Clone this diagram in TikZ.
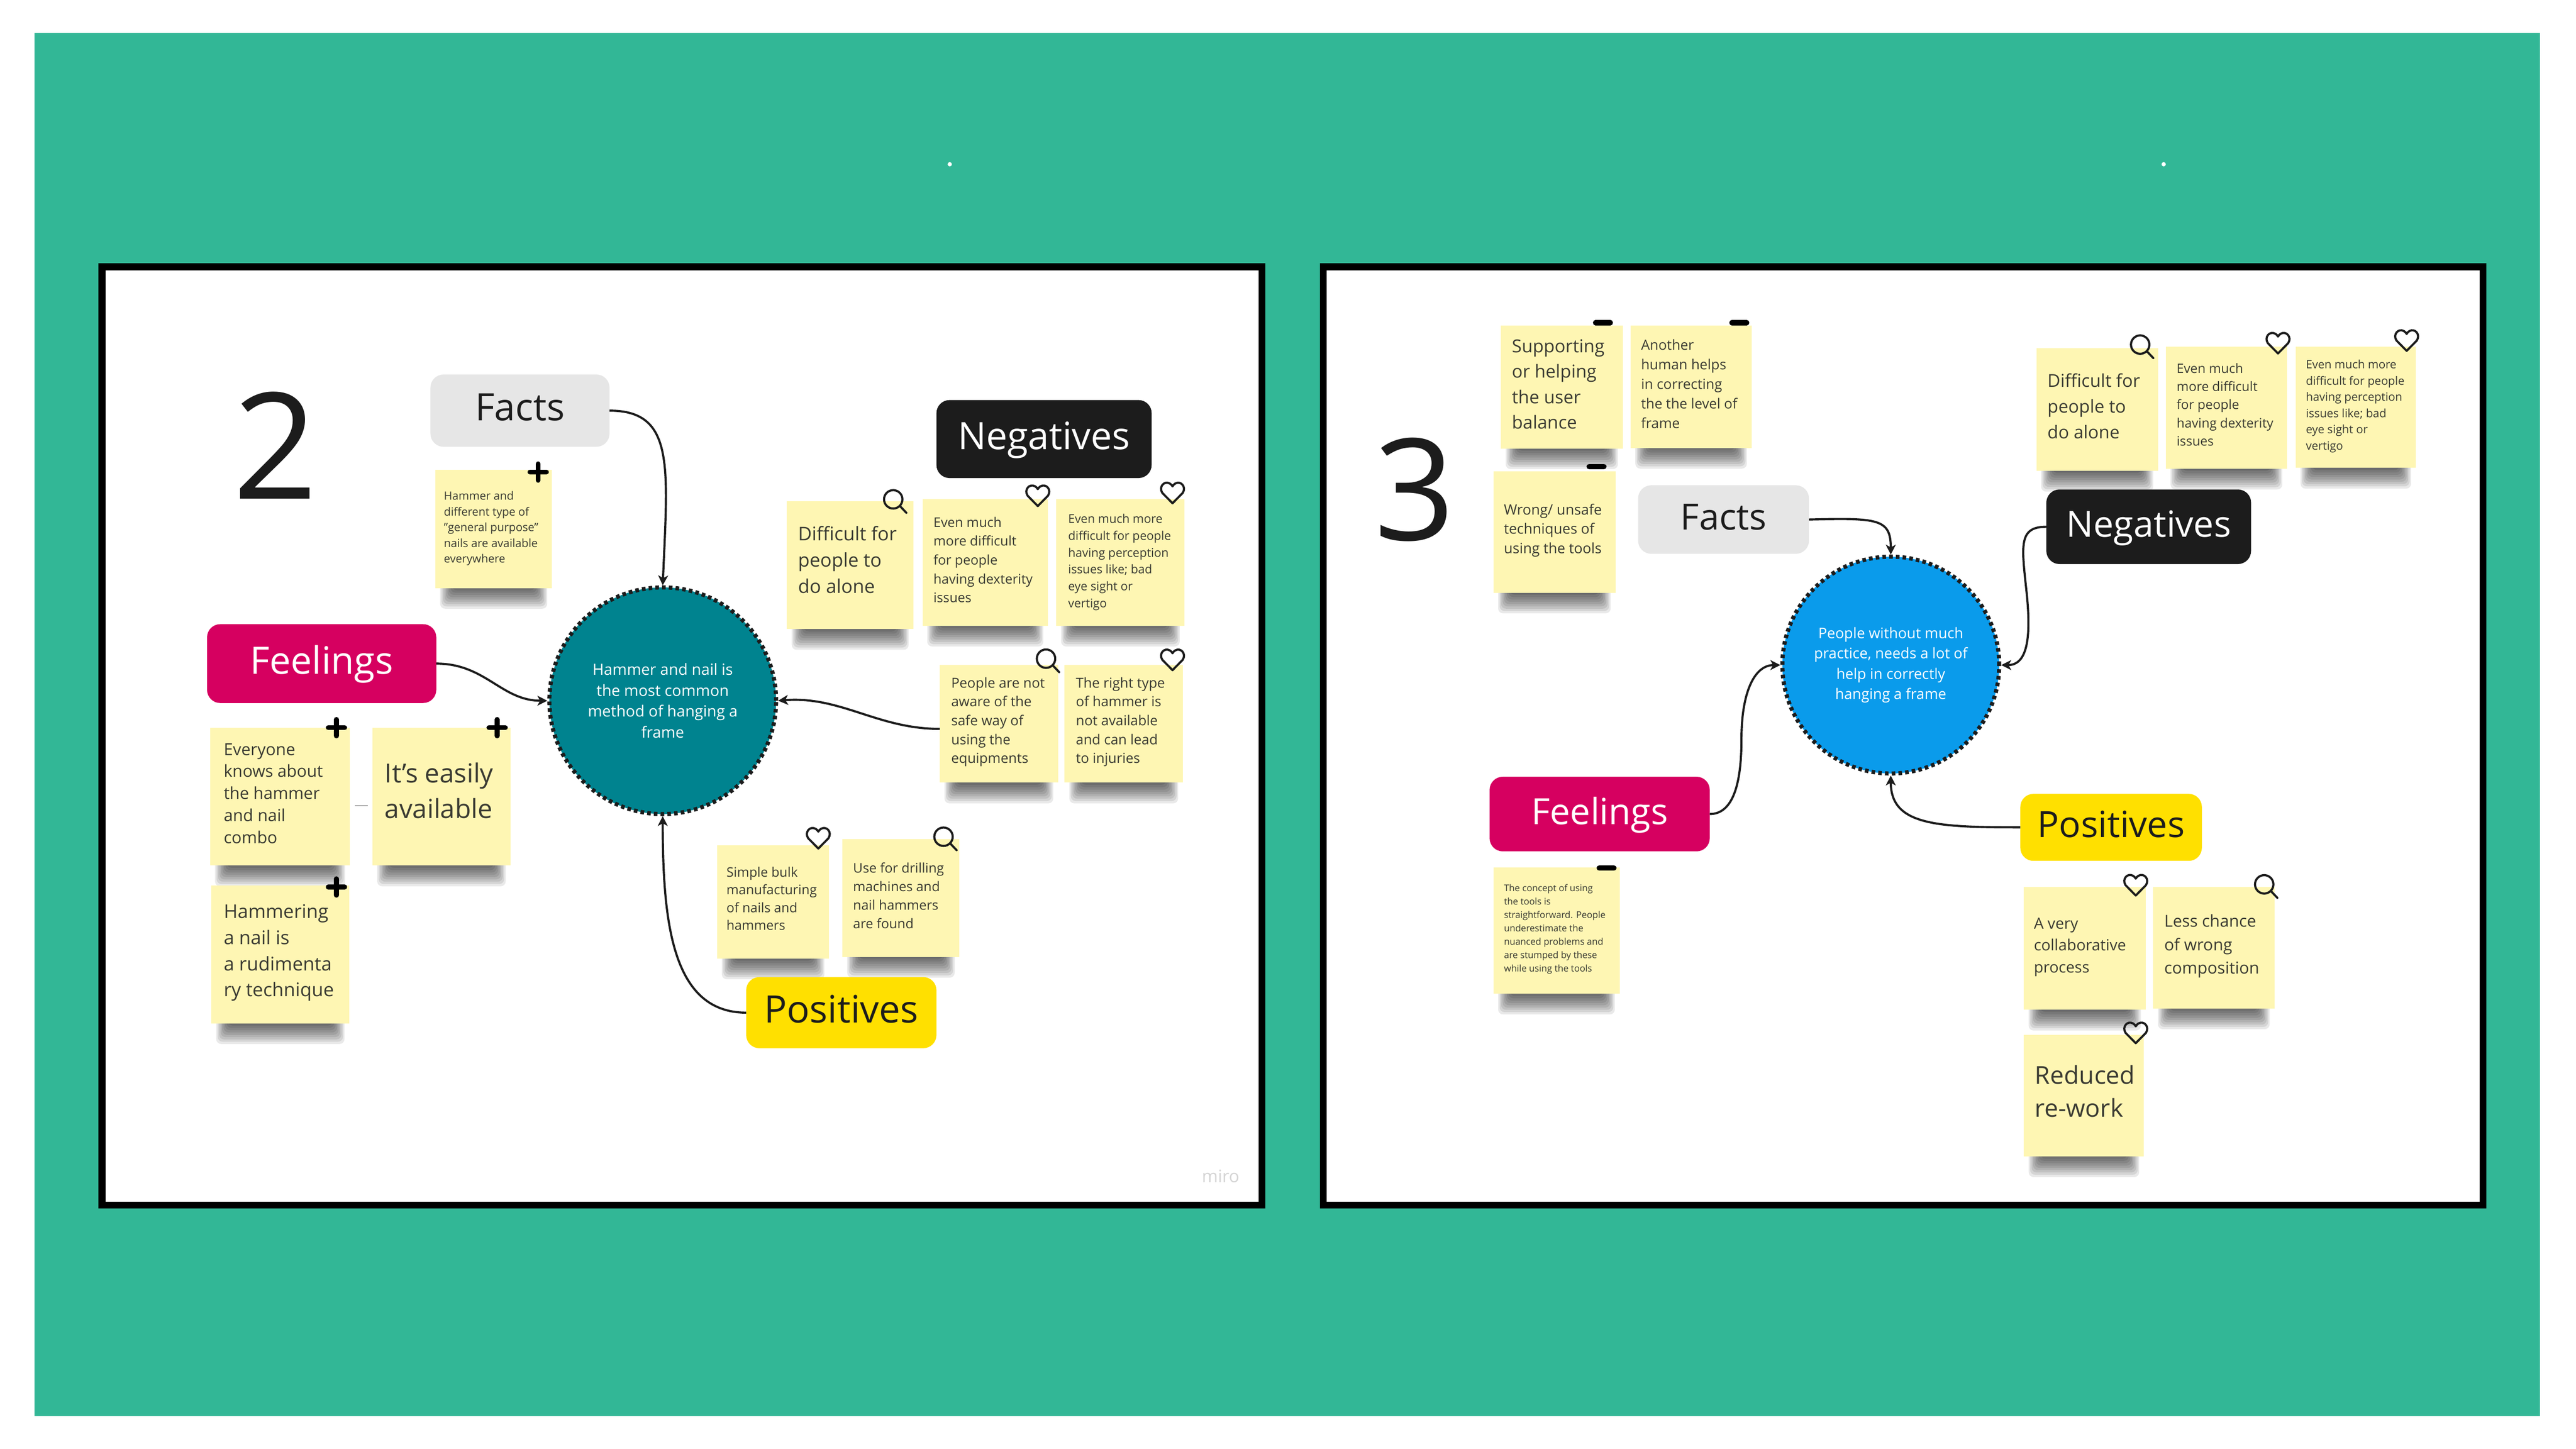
\documentclass[tikz,border=0pt]{standalone}
\usepackage{fontspec}
\setmainfont{Open Sans}
\usetikzlibrary{arrows.meta}
\definecolor{slidegreen}{HTML}{32B796}
\definecolor{noteyellow}{HTML}{FEF6B3}
\definecolor{inkdark}{HTML}{1C1C1C}
\definecolor{notetext}{HTML}{3A3A32}
\definecolor{factgray}{HTML}{E6E6E6}
\definecolor{feelpink}{HTML}{D60060}
\definecolor{posyellow}{HTML}{FFE000}
\definecolor{tealdisc}{HTML}{00838F}
\definecolor{bluedisc}{HTML}{0A9BEB}
\newcommand{\fs}[2]{\fontsize{#1}{#2}\selectfont}
\tikzset{
  boardframe/.style={fill=white,draw=black,line width=4.2pt},
  headbox/.style={rectangle,rounded corners=8pt,outer sep=0pt,text height=16.4pt,text depth=4pt},
  stickybox/.style={rectangle,fill=noteyellow,inner sep=0pt,outer sep=0pt,anchor=north west},
  stickytext/.style={inner sep=0pt,anchor=north west,align=left,text=notetext},
  bigdisc/.style={circle,draw=inkdark,line width=2.5pt,dash pattern=on 2.2pt off 1.9pt,align=center,text=white},
  linkline/.style={line width=1.3pt,draw=inkdark,-{Stealth[length=6pt,width=6pt,inset=1.6pt]}},
  iconline/.style={line width=1.3pt,draw=inkdark,line join=round,line cap=round},
}
% note: name, x0, y0, x1, y1, text x, text top, font, text
\newcommand{\sticky}[9]{
  \foreach \sh in {1,...,9}
    \fill[black,opacity=0.085,rounded corners=3pt] (#2+11-0.9*\sh,#5-4) rectangle (#4-11+0.9*\sh,#5+1.4*\sh);
  \node (#1) [stickybox,minimum width=(#4-#2)*1pt,minimum height=(#5-#3)*1pt] at (#2,#3) {};
  \node (#1t) [stickytext,font=#8] at (#6,#7+0.7) {\strut #9};
}
\newcommand{\iconplus}[2]{
  \draw[line width=3pt,draw=black,line cap=round] (#1-5,#2) -- (#1+5,#2) (#1,#2-5) -- (#1,#2+5);
}
\newcommand{\iconminus}[2]{
  \draw[line width=3.2pt,draw=black,line cap=round] (#1-4.5,#2) -- (#1+4.5,#2);
}
\newcommand{\iconheart}[2]{
  \draw[iconline] (#1,#2+6.5) -- (#1-6.2,#2+0.2) .. controls (#1-8.6,#2-3.5) and (#1-5,#2-7.5) .. (#1-1.6,#2-5.5)
    .. controls (#1-0.9,#2-5.1) and (#1-0.3,#2-4.4) .. (#1,#2-3.8) .. controls (#1+0.3,#2-4.4) and (#1+0.9,#2-5.1) .. (#1+1.6,#2-5.5)
    .. controls (#1+5,#2-7.5) and (#1+8.6,#2-3.5) .. (#1+6.2,#2+0.2) -- cycle;
}
\newcommand{\iconlens}[2]{
  \draw[iconline] (#1,#2) circle[radius=5.6];
  \draw[iconline] (#1+4,#2+4) -- (#1+8,#2+8.2);
}

\begin{document}
\begin{tikzpicture}[x=1pt,y=-1pt]
  \useasboundingbox (0,0) rectangle (1568,882);
  \fill[white] (0,0) rectangle (1568,882);
  \fill[slidegreen] (21,20) rectangle (1546,862);
  \fill[white] (578.1,100) circle[radius=1.3] (1317,100) circle[radius=1.3];
  \draw[boardframe] (62.1,162.4) rectangle (768.1,733.7);
  \draw[boardframe] (805.4,162.4) rectangle (1511.4,733.7);

  % left board
  \node (numtwo) [text=inkdark,font=\fs{90}{100}] at (167.5,271) {2};
  \node (mirotag) [text=black!17,font=\fs{10.5}{12}] at (743,716) {miro};

  \sticky{factnote}{265}{286}{336}{358}{270}{296.8}{\fs{6.9}{9.56}}{Hammer and\\different type of\\"general purpose"\\nails are available\\everywhere}
  \sticky{alonenote}{479}{305}{556}{383}{485.6}{317.1}{\fs{11.5}{16}}{Difficult for\\people to\\do alone}
  \sticky{dexnote}{561.5}{304}{638}{381}{568}{311.9}{\fs{8.1}{11.5}}{Even much\\more difficult\\for people\\having dexterity\\issues}
  \sticky{percnote}{643}{304}{721}{381}{650}{310.3}{\fs{7.3}{10.3}}{Even much more\\difficult for people\\having perception\\issues like; bad\\eye sight or\\vertigo}
  \sticky{awarenote}{572}{405}{644}{476.5}{578.8}{409.8}{\fs{8.4}{11.5}}{People are not\\aware of the\\safe way of\\using the\\equipments}
  \sticky{injurynote}{648}{405}{720}{476.5}{654.7}{409.8}{\fs{8.4}{11.5}}{The right type\\of hammer is\\not available\\and can lead\\to injuries}
  \sticky{knownote}{128}{443}{213}{527}{136}{449.5}{\fs{10.1}{13.4}}{Everyone\\knows about\\the hammer\\and nail\\combo}
  \sticky{easynote}{226.7}{443}{310.7}{527}{234}{460.3}{\fs{16}{21.8}}{It's easily\\available}
  \sticky{rudenote}{128.7}{539}{212.6}{623}{136}{547}{\fs{11.5}{15.9}}{Hammering\\a nail is\\a rudimenta\\ry technique}
  \sticky{bulknote}{436.5}{514.6}{504.7}{583.6}{442}{525.4}{\fs{8}{10.8}}{Simple bulk\\manufacturing\\of nails and\\hammers}
  \sticky{drillnote}{512.8}{511}{584}{582.6}{519.1}{522.6}{\fs{8.1}{11.3}}{Use for drilling\\machines and\\nail hammers\\are found}

  \node (factsA) [headbox,fill=factgray,text=inkdark,minimum width=109pt,minimum height=44pt,font=\fs{23}{26}] at (316.5,250) {Facts};
  \node (feelA) [headbox,fill=feelpink,text=white,minimum width=139.5pt,minimum height=48pt,font=\fs{23}{26}] at (195.8,404) {Feelings};
  \node (negA) [headbox,fill=inkdark,text=white,minimum width=131pt,minimum height=47.5pt,font=\fs{23}{26}] at (635.5,267.3) {Negatives};
  \node (posA) [headbox,fill=posyellow,text=inkdark,minimum width=115.8pt,minimum height=43.3pt,font=\fs{23}{26}] at (512.1,616.5) {Positives};
  \node (discA) [bigdisc,fill=tealdisc,minimum size=138pt,font=\fs{9.4}{12.8}] at (403.4,426.6) {Hammer and nail is\\the most common\\method of hanging a\\frame};

  \draw[linkline] (factsA.east) .. controls +(40,0) and +(3,-72) .. (discA.north);
  \draw[linkline] (feelA.east) .. controls +(30,0) and +(-28,0) .. (discA.west);
  \draw[linkline] ([yshift=-3pt]awarenote.west) .. controls +(-38,0) and +(38,-3) .. (discA.east);
  \draw[linkline] (posA.west) .. controls +(-45,0) and +(0,65) .. (discA.south);
  \draw[black!35,line width=0.8pt] (knownote.east) ++(3,5.5) -- ++(8,0);

  % right board
  \node (numthree) [text=inkdark,font=\fs{86}{96}] at (861,298) {3};

  \sticky{helpnote}{913.6}{198.3}{987.7}{273}{920.1}{203.1}{\fs{10.9}{15.4}}{Supporting\\or helping\\the user\\balance}
  \sticky{levelnote}{992.5}{198.3}{1066.2}{272.7}{998.7}{204}{\fs{8.5}{11.9}}{Another\\human helps\\in correcting\\the the level of\\frame}
  \sticky{wrongnote}{909}{286.8}{983.3}{360.8}{915.2}{304.1}{\fs{8.7}{11.85}}{Wrong/ unsafe\\techniques of\\using the tools}
  \sticky{alonenoteB}{1239.5}{212}{1313.5}{286.7}{1246.1}{224}{\fs{10.8}{15.6}}{Difficult for\\people to\\do alone}
  \sticky{dexnoteB}{1318.3}{211}{1392.1}{285.4}{1324.7}{218.7}{\fs{7.9}{11}}{Even much\\more difficult\\for people\\having dexterity\\issues}
  \sticky{percnoteB}{1397.4}{211}{1470.5}{284.9}{1403.4}{216.6}{\fs{7}{9.9}}{Even much more\\difficult for people\\having perception\\issues like; bad\\eye sight or\\vertigo}
  \sticky{stumpnote}{909}{528}{985.8}{605}{915.3}{535.9}{\fs{5.6}{8.2}}{The concept of using\\the tools is\\straightforward. People\\underestimate the\\nuanced problems and\\are stumped by these\\while using the tools}
  \sticky{collabnote}{1231.9}{540}{1306}{614.8}{1237.8}{555.3}{\fs{9.4}{13.3}}{A very\\collaborative\\process}
  \sticky{compnote}{1310.6}{540}{1384.4}{614}{1317.2}{553.4}{\fs{10}{14.3}}{Less chance\\of wrong\\composition}
  \sticky{reworknote}{1231.9}{630}{1305}{704}{1238.5}{644.7}{\fs{15}{20.3}}{Reduced\\re-work}

  \node (factsB) [headbox,fill=factgray,text=inkdark,minimum width=104pt,minimum height=41.7pt,font=\fs{22}{26}] at (1049.1,316.3) {Facts};
  \node (feelB) [headbox,fill=feelpink,text=white,minimum width=134pt,minimum height=45.4pt,font=\fs{22}{26}] at (973.7,495.6) {Feelings};
  \node (negB) [headbox,fill=inkdark,text=white,minimum width=124.6pt,minimum height=45.4pt,font=\fs{22}{26}] at (1307.9,320.7) {Negatives};
  \node (posB) [headbox,fill=posyellow,text=inkdark,minimum width=110.5pt,minimum height=40.8pt,font=\fs{22}{26}] at (1285,503.7) {Positives};
  \node (discB) [bigdisc,fill=bluedisc,minimum size=132pt,font=\fs{8.9}{12.3}] at (1150.9,404.9) {People without much\\practice, needs a lot of\\help in correctly\\hanging a frame};

  \draw[linkline] (factsB.east) .. controls +(42,-1) and +(0,-22) .. (discB.north);
  \draw[linkline] (negB.west) .. controls +(-17,0) and +(-3,-28) .. (1233.5,360) .. controls +(3,28) and +(16,0) .. (discB.east);
  \draw[linkline] (feelB.east) .. controls +(16,0) and +(0,22) .. (1060,450) .. controls +(0,-28) and +(-16,0) .. (discB.west);
  \draw[linkline] (posB.west) .. controls +(-52,0) and +(0,30) .. (discB.south);

  % icons
  \foreach \ix/\iy in {327.6/287.4,204.8/443,302.6/443,204.8/540}
    \iconplus{\ix}{\iy};
  \foreach \ix/\iy in {975.7/196.5,1058.7/196.5,971.8/284,977.9/528.5}
    \iconminus{\ix}{\iy};
  \foreach \ix/\iy in {631.7/301.6,713.7/299.9,713.7/401.5,498.1/510.1,1386.6/208.7,1464.9/207.1,1300/538.7,1300/628.6}
    \iconheart{\ix}{\iy};
  \foreach \ix/\iy in {543.7/304,636.7/401,574.3/509.4,1302.7/209.8,1378.2/538.4}
    \iconlens{\ix}{\iy};
\end{tikzpicture}
\end{document}
